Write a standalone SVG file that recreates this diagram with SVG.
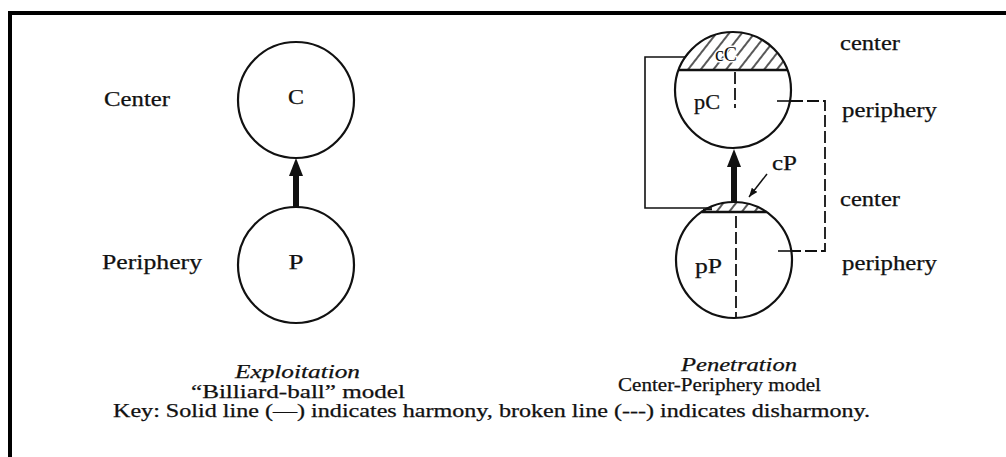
<svg xmlns="http://www.w3.org/2000/svg" width="1006" height="457" viewBox="0 0 1006 457">
<style>
.bg{fill:#ffffff}
.frame{fill:#000}
.ball{fill:none;stroke:#111;stroke-width:2.2}
.solid{fill:none;stroke:#111;stroke-width:1.6}
.dash{fill:none;stroke:#111;stroke-width:1.8;stroke-dasharray:12 4}
.shaft{fill:none;stroke:#111;stroke-width:6}
.thin{fill:none;stroke:#111;stroke-width:1.5}
.chord{fill:none;stroke:#111;stroke-width:2.4}
text{font-family:"Liberation Serif","Times New Roman",serif;fill:#111;stroke:#111;stroke-width:0.25px;font-size:20px}
.it{font-style:italic}
.cap{font-size:18.5px}
.key{font-size:18px}
.mid{text-anchor:middle}
.halo{paint-order:stroke;stroke:#fff;stroke-width:3px;font-size:21px}
</style>
<defs>
<pattern id="hatch" patternUnits="userSpaceOnUse" width="10" height="10" patternTransform="rotate(38)">
<line x1="5" y1="0" x2="5" y2="10" stroke="#111" stroke-width="1.4"/>
</pattern>
<marker id="bighead" viewBox="0 0 18 14" refX="0" refY="7" markerWidth="18" markerHeight="14" markerUnits="userSpaceOnUse" orient="auto">
<path d="M0,0 L18,7 L0,14 Z" fill="#111"/>
</marker>
<marker id="smallhead" viewBox="0 0 9 7" refX="9" refY="3.5" markerWidth="9" markerHeight="7" markerUnits="userSpaceOnUse" orient="auto">
<path d="M0,0 L9,3.5 L0,7 Z" fill="#111"/>
</marker>
</defs>
<rect class="bg" x="0" y="0" width="1006" height="457"/>
<g id="frame">
<rect class="frame" x="8" y="11" width="998" height="4"/>
<rect class="frame" x="8" y="11" width="4" height="446"/>
</g>
<g id="labels-left">
<text x="104" y="106" textLength="66" lengthAdjust="spacingAndGlyphs">Center</text>
<text x="102" y="269" textLength="100" lengthAdjust="spacingAndGlyphs">Periphery</text>
</g>
<g id="node-C">
<circle class="ball" cx="296" cy="100" r="58"/>
<text class="mid" x="296" y="104" textLength="16" lengthAdjust="spacingAndGlyphs">C</text>
</g>
<g id="node-P">
<circle class="ball" cx="296" cy="265" r="58"/>
<text class="mid" x="296" y="269" textLength="15" lengthAdjust="spacingAndGlyphs">P</text>
</g>
<g id="node-upper">
<path d="M678.6,70 A58,58 0 0 1 787.4,70 Z" fill="url(#hatch)"/>
<line class="chord" x1="678.6" y1="70" x2="787.4" y2="70"/>
<circle class="ball" cx="733" cy="90" r="58"/>
<line class="dash" x1="735" y1="72" x2="735" y2="108"/>
<text class="halo" x="715" y="61" textLength="22" lengthAdjust="spacingAndGlyphs">cC</text>
<text x="694" y="109" textLength="26" lengthAdjust="spacingAndGlyphs">pC</text>
</g>
<g id="node-lower">
<path d="M701.4,212 A58,58 0 0 1 766.6,212 Z" fill="url(#hatch)"/>
<line class="chord" x1="701.4" y1="212" x2="766.6" y2="212"/>
<circle class="ball" cx="734" cy="260" r="58"/>
<line class="dash" x1="736" y1="216" x2="736" y2="317"/>
<text x="695" y="273" textLength="27" lengthAdjust="spacingAndGlyphs">pP</text>
<text x="772" y="170" textLength="25" lengthAdjust="spacingAndGlyphs">cP</text>
</g>
<g id="labels-right">
<text x="840" y="50" textLength="60" lengthAdjust="spacingAndGlyphs">center</text>
<text x="842" y="117" textLength="95" lengthAdjust="spacingAndGlyphs">periphery</text>
<text x="840" y="206" textLength="60" lengthAdjust="spacingAndGlyphs">center</text>
<text x="842" y="270" textLength="95" lengthAdjust="spacingAndGlyphs">periphery</text>
</g>
<g id="connectors">
<line class="shaft" x1="296" y1="207" x2="296" y2="176" marker-end="url(#bighead)"/>
<line class="shaft" x1="734" y1="202" x2="734" y2="167" marker-end="url(#bighead)"/>
<line class="thin" x1="767" y1="174" x2="749" y2="197" marker-end="url(#smallhead)"/>
<polyline class="solid" points="685,57 645,57 645,208 712,208"/>
<line class="solid" x1="703" y1="209.5" x2="712" y2="209.5" stroke-width="4"/>
<line class="solid" x1="777" y1="101" x2="791" y2="101" stroke-width="2"/>
<polyline class="dash" points="791,101 825,101 825,251 791,251"/>
<line class="solid" x1="778" y1="251" x2="791" y2="251" stroke-width="2"/>
</g>
<g id="captions">
<text class="it cap" x="235" y="378" textLength="125" lengthAdjust="spacingAndGlyphs">Exploitation</text>
<text class="cap" x="191" y="398" textLength="214" lengthAdjust="spacingAndGlyphs">“Billiard-ball” model</text>
<text class="it cap" x="681" y="371" textLength="116" lengthAdjust="spacingAndGlyphs">Penetration</text>
<text class="cap" x="618" y="391" textLength="203" lengthAdjust="spacingAndGlyphs">Center-Periphery model</text>
<text class="key" x="113" y="417" textLength="757" lengthAdjust="spacingAndGlyphs">Key: Solid line (—) indicates harmony, broken line (---) indicates disharmony.</text>
</g>
</svg>
